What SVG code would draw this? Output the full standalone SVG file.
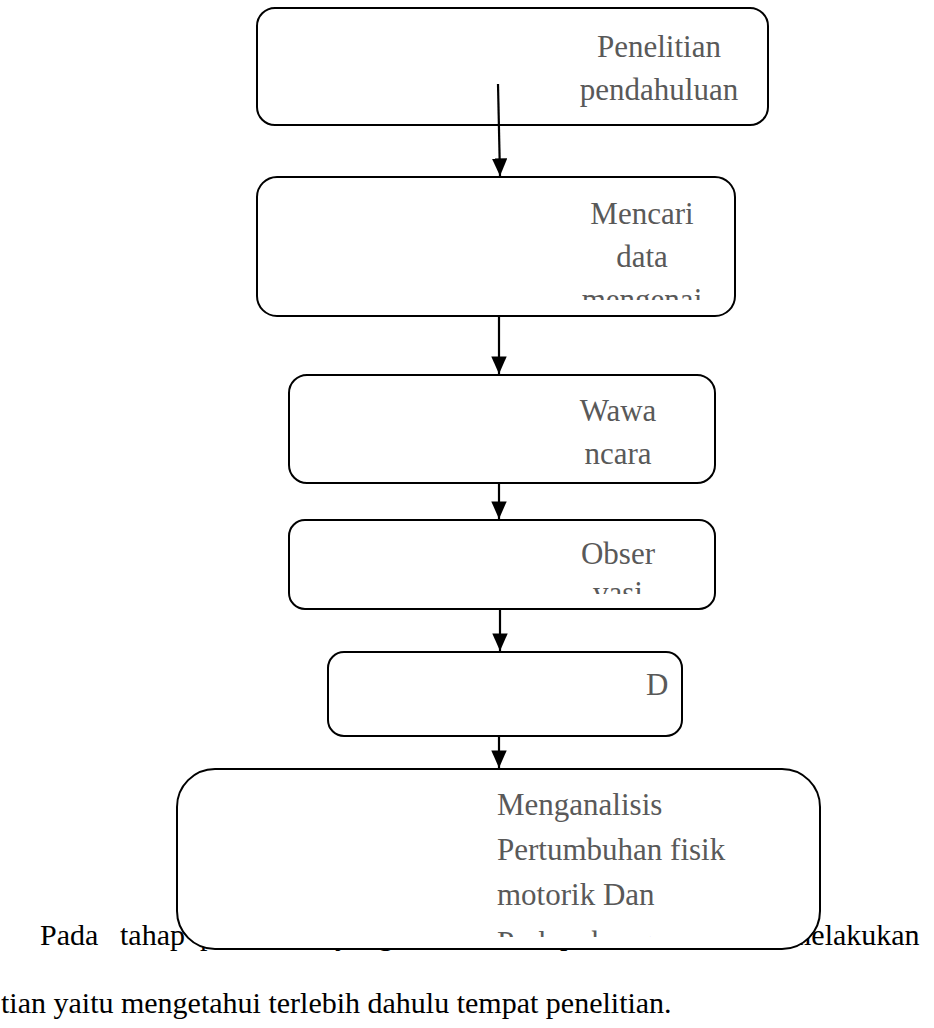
<svg xmlns="http://www.w3.org/2000/svg" width="934" height="1028" viewBox="0 0 934 1028">
<style>
.box{fill:#fff;stroke:#000;stroke-width:2}
.lbl{font-family:"Liberation Serif","Times New Roman",serif;font-size:31px;fill:#595959}
.body{font-family:"Liberation Serif","Times New Roman",serif;font-size:30px;fill:#000}
.conn{stroke:#000;stroke-width:2.2;fill:none}
</style>
<defs>
<marker id="ah" markerWidth="8" markerHeight="7" refX="8" refY="3.5" orient="auto" markerUnits="strokeWidth">
<path d="M0,0 L8,3.5 L0,7 Z" fill="#000"/>
</marker>
<clipPath id="c2"><rect x="258" y="178" width="476" height="122"/></clipPath>
<clipPath id="c4"><rect x="290" y="521" width="424" height="73"/></clipPath>
<clipPath id="c6"><rect x="178" y="770" width="640" height="167"/></clipPath>
</defs>
<g id="paragraph">
<text class="body" y="945"><tspan x="40">Pada</tspan><tspan x="120">tahap</tspan><tspan x="200">pertama</tspan><tspan x="335">yang</tspan><tspan x="418">dilakukan</tspan><tspan x="560">peneliti</tspan><tspan x="672">adalah</tspan><tspan x="788">melakukan</tspan></text>
<text class="body" x="1" y="1013">tian yaitu mengetahui terlebih dahulu tempat penelitian.</text>
</g>
<g id="node1">
<rect class="box" x="257" y="8" width="511" height="117" rx="18"/>
<text class="lbl" x="659" y="57" text-anchor="middle">Penelitian</text>
<text class="lbl" x="659" y="100" text-anchor="middle">pendahuluan</text>
</g>
<g id="node2">
<rect class="box" x="257" y="177" width="478" height="139" rx="20"/>
<g clip-path="url(#c2)">
<text class="lbl" x="642" y="224" text-anchor="middle">Mencari</text>
<text class="lbl" x="642" y="267" text-anchor="middle">data</text>
<text class="lbl" x="642" y="310" text-anchor="middle">mengenai</text>
</g>
</g>
<g id="node3">
<rect class="box" x="289" y="375" width="426" height="108" rx="18"/>
<text class="lbl" x="618" y="421" text-anchor="middle">Wawa</text>
<text class="lbl" x="618" y="464" text-anchor="middle">ncara</text>
</g>
<g id="node4">
<rect class="box" x="289" y="520" width="426" height="89" rx="16"/>
<g clip-path="url(#c4)">
<text class="lbl" x="618" y="564" text-anchor="middle">Obser</text>
<text class="lbl" x="618" y="603" text-anchor="middle">vasi</text>
</g>
</g>
<g id="node5">
<rect class="box" x="328" y="652" width="354" height="84" rx="16"/>
<text class="lbl" x="646" y="695">D</text>
</g>
<g id="node6">
<rect class="box" x="177" y="769" width="643" height="180" rx="38"/>
<g clip-path="url(#c6)">
<text class="lbl" x="497" y="815">Menganalisis</text>
<text class="lbl" x="497" y="860">Pertumbuhan fisik</text>
<text class="lbl" x="497" y="905">motorik Dan</text>
<text class="lbl" x="497" y="953">Perkembangan</text>
</g>
</g>
<g id="connectors">
<line class="conn" x1="498" y1="84" x2="500" y2="176" marker-end="url(#ah)"/>
<line class="conn" x1="499" y1="316" x2="499" y2="374" marker-end="url(#ah)"/>
<line class="conn" x1="499" y1="483" x2="499" y2="519" marker-end="url(#ah)"/>
<line class="conn" x1="500" y1="609" x2="500" y2="651" marker-end="url(#ah)"/>
<line class="conn" x1="499" y1="736" x2="499" y2="768" marker-end="url(#ah)"/>
</g>
</svg>
